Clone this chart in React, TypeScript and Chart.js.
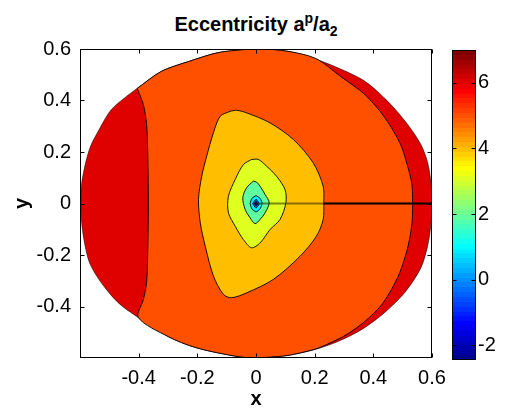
import { useEffect, useRef } from 'react';
import { Chart, registerables } from 'chart.js';

Chart.register(...registerables);

const FONT = "'Liberation Sans', Arial, Helvetica, sans-serif";

// Axis ticks
const xTicks = [-0.4, -0.2, 0, 0.2, 0.4, 0.6];
const yTicks = [-0.4, -0.2, 0, 0.2, 0.4, 0.6];
const colorTicks = [-2, 0, 2, 4, 6];
const colorRange = [-2.45, 7.0];

// Contour levels, outermost first (domain fill = level 6 band)
const levels = [6, 5, 4, 3, 2, 1, 0, -1, -2];
const levelColors = ['#DF0000', '#FF5000', '#FFBF00', '#DFFF20', '#60FF9F', '#00EFFF', '#0080FF', '#0010FF', '#0000AF'];

// Edge of the sampled domain
const domainEdge: [number, number][] = [
  [0.0, 0.602], [0.109, 0.591], [0.19, 0.566], [0.279, 0.527], [0.371, 0.475], [0.449, 0.397],
  [0.517, 0.307], [0.562, 0.229], [0.585, 0.16], [0.597, 0.075], [0.6, 0], [0.597, -0.075],
  [0.585, -0.165], [0.562, -0.25], [0.507, -0.346], [0.439, -0.423], [0.361, -0.489], [0.279, -0.536],
  [0.201, -0.567], [0.109, -0.59], [0.031, -0.598], [0, -0.602], [-0.085, -0.59], [-0.207, -0.559],
  [-0.299, -0.517], [-0.401, -0.443], [-0.471, -0.384], [-0.528, -0.307], [-0.565, -0.237], [-0.58, -0.179],
  [-0.593, -0.089], [-0.597, 0], [-0.594, 0.082], [-0.568, 0.21], [-0.531, 0.295], [-0.493, 0.365],
  [-0.446, 0.412], [-0.405, 0.447], [-0.323, 0.513], [-0.231, 0.551], [-0.129, 0.586], [-0.037, 0.598],
];

// Region with value below 6
const below6: [number, number][] = [
  [-0.405, 0.447], [-0.384, 0.384], [-0.373, 0.307], [-0.369, 0.19], [-0.367, 0], [-0.369, -0.179],
  [-0.373, -0.307], [-0.384, -0.373], [-0.401, -0.443], [-0.299, -0.517], [-0.207, -0.559], [-0.085, -0.59],
  [0, -0.602], [0.031, -0.598], [0.109, -0.59], [0.184, -0.571], [0.218, -0.559], [0.303, -0.513],
  [0.371, -0.458], [0.432, -0.388], [0.483, -0.287], [0.514, -0.186], [0.531, -0.085], [0.534, 0],
  [0.531, 0.078], [0.517, 0.144], [0.493, 0.229], [0.439, 0.334], [0.371, 0.423], [0.289, 0.493],
  [0.204, 0.563], [0.109, 0.591], [0, 0.602], [-0.037, 0.598], [-0.129, 0.586], [-0.231, 0.551],
  [-0.323, 0.513],
];

// Region with value below 5
const below5: [number, number][] = [
  [-0.088, 0.358], [-0.122, 0.339], [-0.145, 0.275], [-0.168, 0.184], [-0.185, 0.106], [-0.196, 0.016],
  [-0.19, -0.075], [-0.173, -0.166], [-0.145, -0.282], [-0.111, -0.353], [-0.083, -0.366], [-0.032, -0.347],
  [0.059, -0.295], [0.15, -0.205], [0.206, -0.127], [0.229, -0.062], [0.231, 0.003], [0.229, 0.067],
  [0.195, 0.158], [0.127, 0.249], [0.048, 0.313], [-0.032, 0.352], [-0.066, 0.362],
];

// Region with value below 4
const below4: [number, number][] = [
  [-0.015, 0.171], [-0.043, 0.151], [-0.071, 0.093], [-0.094, 0.028], [-0.094, -0.036], [-0.071, -0.088],
  [-0.043, -0.14], [-0.015, -0.172], [0.014, -0.153], [0.048, -0.101], [0.082, -0.062], [0.102, 0.003],
  [0.099, 0.054], [0.07, 0.106], [0.036, 0.145], [0.008, 0.171],
];

// Region with value below 3
const below3: [number, number][] = [
  [-0.009, 0.087], [-0.032, 0.061], [-0.045, 0.022], [-0.037, -0.023], [-0.02, -0.056], [-0.003, -0.078],
  [0.014, -0.062], [0.031, -0.036], [0.045, 0.003], [0.031, 0.035], [0.014, 0.067], [0.002, 0.083],
];

// Regions with value below 2, 1, 0 and -1 around the minimum
const below2: [number, number][] = [
  [0, 0.031], [0.014, 0.02], [0.021, 0], [0.014, -0.021], [0, -0.033], [-0.014, -0.021], [-0.02, 0], [-0.014, 0.02],
];
const below1: [number, number][] = [[0, 0.017], [0.011, 0], [0, -0.018], [-0.011, 0]];
const below0: [number, number][] = [[0, 0.009], [0.006, 0], [0, -0.01], [-0.006, 0]];
const belowM1: [number, number][] = [[0, 0.004], [0.003, 0], [0, -0.005], [-0.003, 0]];

// Branch cut along the positive x axis
const cutInner: [number, number][] = [[0, 0], [0.231, 0]];
const cutOuter: [number, number][] = [[0.231, 0], [0.6, 0]];

const regions = [domainEdge, below6, below5, below4, below3, below2, below1, below0, belowM1];

const toPoints = (pts: [number, number][], close: boolean) => {
  const out = pts.map(([x, y]) => ({ x, y }));
  if (close) out.push({ x: pts[0][0], y: pts[0][1] });
  return out;
};

const fmt = (v: number) => String(+Number(v).toFixed(1));

// MATLAB-style jet colormap row k (1..64)
const jetRow = (k: number) => {
  const x = k / 64;
  const c = (v: number) => Math.round(255 * Math.max(0, Math.min(1, v)));
  const r = c(Math.min(4 * x - 1.5, -4 * x + 4.5));
  const g = c(Math.min(4 * x - 0.5, -4 * x + 3.5));
  const b = c(Math.min(4 * x + 0.5, -4 * x + 2.5));
  return `rgb(${r},${g},${b})`;
};

// Box around the plot area with inward tick marks on every side
const framePlugin = {
  id: 'matlabFrame',
  afterDraw(chart: any) {
    const { ctx, chartArea: a } = chart;
    const L = Math.round(a.left) + 0.5;
    const R = Math.round(a.right) - 0.5;
    const T = Math.round(a.top) + 0.5;
    const B = Math.round(a.bottom) - 0.5;
    const len = 4;
    ctx.save();
    ctx.strokeStyle = '#000';
    ctx.lineWidth = 1;
    ctx.beginPath();
    Object.values(chart.scales).forEach((s: any) => {
      if (!s.options.display) return;
      s.ticks.forEach((t: any) => {
        const p = Math.round(s.getPixelForValue(t.value)) + 0.5;
        if (s.isHorizontal()) {
          ctx.moveTo(p, B); ctx.lineTo(p, B - len);
          ctx.moveTo(p, T); ctx.lineTo(p, T + len);
        } else {
          ctx.moveTo(L, p); ctx.lineTo(L + len, p);
          ctx.moveTo(R, p); ctx.lineTo(R - len, p);
        }
      });
    });
    ctx.stroke();
    ctx.strokeRect(L, T, R - L, B - T);
    ctx.restore();
  },
};

const tickFont = { family: FONT, size: 20 };
const titleFont = { family: FONT, size: 20, weight: 'bold' as const };

function mainConfig(): any {
  const fills = regions
    .map((pts, i) => ({
      data: toPoints(pts, true),
      showLine: true,
      fill: 'shape',
      backgroundColor: levelColors[i],
      borderColor: i === 0 ? 'rgba(0,0,0,0.55)' : 'rgba(0,0,0,0.9)',
      borderWidth: 1,
      pointRadius: 0,
      tension: i < 5 ? 0.3 : 0.15,
      clip: 0,
    }))
    .reverse();
  const cuts = [
    { data: toPoints(cutOuter, false), borderColor: '#000', borderWidth: 2 },
    { data: toPoints(cutInner, false), borderColor: 'rgba(40,40,0,0.55)', borderWidth: 2 },
  ].map((d) => ({ ...d, showLine: true, fill: false, pointRadius: 0, tension: 0, clip: 0 }));
  return {
    type: 'scatter',
    data: { datasets: [...cuts, ...fills] },
    options: {
      responsive: false,
      animation: false,
      layout: { padding: { top: 49, right: 75, bottom: 0, left: 0 } },
      plugins: { legend: { display: false }, tooltip: { enabled: false }, title: { display: false } },
      events: [],
      scales: {
        x: {
          type: 'linear', min: -0.6, max: 0.6,
          afterBuildTicks: (s: any) => { s.ticks = xTicks.map((v) => ({ value: v })); },
          afterFit: (s: any) => { s.height = 54; },
          grid: { display: false, drawTicks: false },
          border: { display: false },
          ticks: { padding: 8, font: tickFont, color: '#000', callback: (v: number) => fmt(v), maxRotation: 0, autoSkip: false },
          title: { display: true, text: 'x', font: titleFont, color: '#000', padding: { top: 0, bottom: 1 } },
        },
        y: {
          type: 'linear', min: -0.6, max: 0.6,
          afterBuildTicks: (s: any) => { s.ticks = yTicks.map((v) => ({ value: v })); },
          afterFit: (s: any) => { s.width = 80; },
          grid: { display: false, drawTicks: false },
          border: { display: false },
          ticks: { padding: 9, font: tickFont, color: '#000', callback: (v: number) => fmt(v), autoSkip: false },
          title: { display: true, text: 'y', font: titleFont, color: '#000', padding: { top: 10, bottom: 0 } },
        },
      },
    },
    plugins: [framePlugin],
  };
}

function colorbarConfig(): any {
  return {
    type: 'bar',
    data: {
      labels: [''],
      datasets: [{
        data: [[colorRange[0], colorRange[1]]],
        borderWidth: 0,
        barPercentage: 1,
        categoryPercentage: 1,
        backgroundColor: (c: any) => {
          const chart = c.chart;
          const y = chart.scales.y;
          if (!chart.chartArea || !y) return '#000';
          const g = chart.ctx.createLinearGradient(0, y.getPixelForValue(colorRange[0]), 0, y.getPixelForValue(colorRange[1]));
          for (let k = 1; k <= 64; k++) {
            const col = jetRow(k);
            g.addColorStop((k - 1) / 64, col);
            g.addColorStop(k / 64, col);
          }
          return g;
        },
      }],
    },
    options: {
      responsive: false,
      animation: false,
      events: [],
      layout: { padding: { top: 50, right: 0, bottom: 52, left: 452 } },
      plugins: { legend: { display: false }, tooltip: { enabled: false } },
      scales: {
        x: { display: false },
        y: {
          position: 'right', min: colorRange[0], max: colorRange[1],
          afterBuildTicks: (s: any) => { s.ticks = colorTicks.map((v) => ({ value: v })); },
          afterFit: (s: any) => { s.width = 31; },
          grid: { display: false, drawTicks: false },
          border: { display: false },
          ticks: { padding: 2, font: tickFont, color: '#000', autoSkip: false },
        },
      },
    },
    plugins: [framePlugin],
  };
}

export default function App() {
  const mainRef = useRef<HTMLCanvasElement>(null);
  const barRef = useRef<HTMLCanvasElement>(null);

  useEffect(() => {
    const main = new Chart(mainRef.current as HTMLCanvasElement, mainConfig());
    const bar = new Chart(barRef.current as HTMLCanvasElement, colorbarConfig());
    return () => {
      main.destroy();
      bar.destroy();
    };
  }, []);

  const small = { fontSize: 14, lineHeight: 0 };
  return (
    <div style={{ position: 'fixed', left: 0, top: 0, width: 507, height: 412, background: '#fff', fontFamily: FONT, overflow: 'hidden' }}>
      <div style={{ position: 'absolute', left: 0, top: 12, width: 512, textAlign: 'center', fontWeight: 'bold', fontSize: 20, lineHeight: '24px', color: '#000' }}>
        Eccentricity a<sup style={small}>p</sup>/a<sub style={small}>2</sub>
      </div>
      <canvas ref={mainRef} width={507} height={412} style={{ position: 'absolute', left: 0, top: 0 }} />
      <canvas ref={barRef} width={507} height={412} style={{ position: 'absolute', left: 0, top: 0 }} />
    </div>
  );
}
